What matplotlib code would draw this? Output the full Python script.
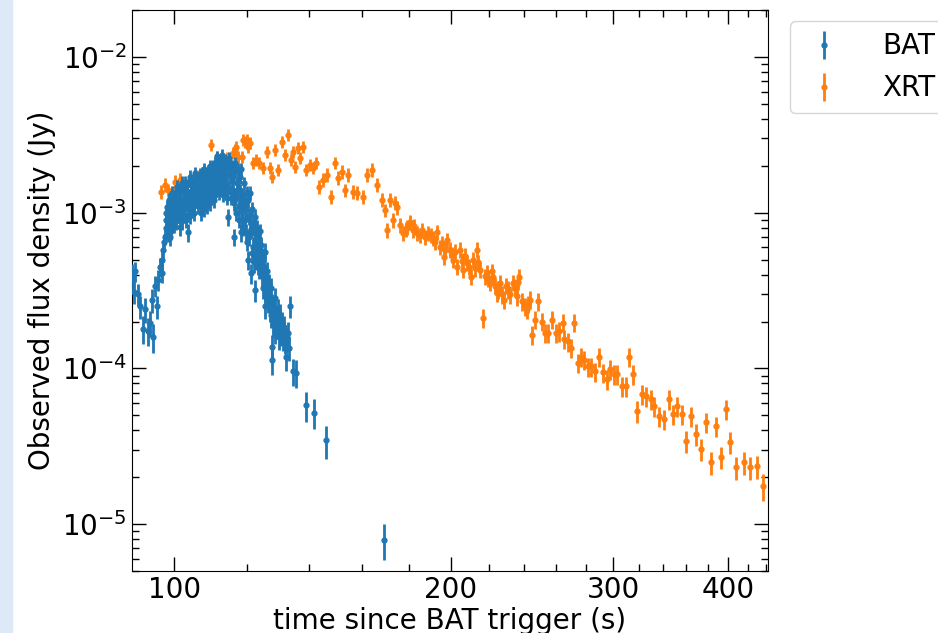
import numpy as np
import matplotlib
matplotlib.use("Agg")
import matplotlib.pyplot as plt
from matplotlib.patches import Rectangle
from matplotlib.ticker import FixedLocator, MultipleLocator, NullFormatter, FixedFormatter

# BAT light curve (time since trigger in s, flux density in Jy, error in %)
bat_time = [90.0, 90.2, 90.4, 90.7, 91.4, 91.8, 92.5, 93.0, 93.7, 94.2,
            94.6, 94.9, 95.4, 95.8, 96.1, 96.6, 97.0, 97.1, 97.3, 97.8,
            97.9, 98.0, 98.3, 98.5, 98.8, 99.0, 99.2, 99.5, 99.6, 99.8,
            100.0, 100.3, 100.6, 100.8, 101.0, 101.2, 101.5, 101.8, 102.0, 102.3,
            102.5, 102.8, 103.0, 103.3, 103.6, 103.9, 104.1, 104.3, 104.6, 104.9,
            105.2, 105.4, 105.6, 105.9, 106.2, 106.5, 106.8, 107.1, 107.4, 107.7,
            108.0, 108.3, 108.6, 108.9, 109.2, 109.5, 109.8, 110.1, 110.4, 110.7,
            111.0, 111.3, 111.6, 111.9, 112.2, 112.5, 112.8, 113.1, 113.4, 113.7,
            114.0, 114.3, 114.5, 114.6, 115.2, 115.5, 115.8, 116.1, 116.4, 116.7,
            117.0, 117.3, 117.6, 117.9, 118.2, 118.1, 118.3, 118.6, 119.0, 119.3,
            119.6, 119.9, 120.2, 120.5, 120.9, 121.1, 121.3, 121.6, 121.9, 122.2,
            122.4, 122.6, 122.9, 123.2, 123.5, 123.8, 124.0, 124.3, 124.6, 124.9,
            125.2, 125.6, 125.9, 126.2, 126.6, 126.9, 127.2, 127.5, 127.8, 127.9,
            128.1, 128.8, 128.9, 129.3, 129.4, 129.7, 130.5, 131.0, 131.3, 131.8,
            132.4, 133.0, 133.4, 133.7, 134.6, 135.8, 139.1, 142.0, 146.3, 169.1,
            97.6, 98.1, 98.4, 98.7, 98.9, 99.1, 99.3, 99.7, 99.9, 100.1,
            100.4, 100.5, 100.7, 100.9, 101.1, 101.3, 101.6, 101.7, 101.9, 102.1,
            102.4, 102.6, 102.9, 103.1, 103.4, 103.5, 103.7, 104.0, 104.2, 104.5,
            104.7, 105.0, 105.1, 105.3, 105.7, 105.8, 106.0, 106.1, 106.4, 106.6,
            106.9, 107.0, 107.2, 107.5, 107.8, 107.9, 108.1, 108.4, 108.7, 108.8,
            109.0, 109.3, 109.4, 109.6, 109.9, 110.0, 110.2, 110.5, 110.6, 110.9,
            111.1, 111.4, 111.5, 111.8, 112.0, 112.3, 112.6, 112.7, 113.0, 113.2,
            113.5, 113.6, 113.9, 114.1, 114.4, 114.8, 115.0, 115.3, 115.6, 115.9,
            116.0, 116.3, 116.6, 116.9, 117.1, 117.4, 117.7, 118.0, 118.4, 118.7,
            118.9, 119.1, 119.5, 119.8, 120.0, 120.3, 120.7, 121.0, 121.4, 121.7,
            122.0, 122.3, 122.8, 123.0, 123.3, 123.6, 124.1, 124.4, 124.8, 125.0,
            125.4, 125.7, 126.0, 126.4, 126.7, 127.0, 127.3, 127.7, 128.0, 128.4,
            128.6, 129.0, 129.9, 130.2, 130.8, 131.5, 132.1, 132.7]
bat_flux = [4.1e-4, 3.7e-4, 3.1e-4, 4.2e-4, 3.0e-4, 2.5e-4, 1.8e-4, 2.4e-4, 1.75e-4, 1.95e-4,
            2.75e-4, 1.6e-4, 3.4e-4, 2.5e-4, 3.7e-4, 4.5e-4, 4.1e-4, 5.0e-4, 5.8e-4, 7.0e-4,
            1.0e-3, 8.0e-4, 1.09e-3, 8.6e-4, 9.5e-4, 7.0e-4, 1.15e-3, 1.34e-3, 8.6e-4, 1.05e-3,
            1.25e-3, 9.4e-4, 1.1e-3, 1.47e-3, 1.09e-3, 1.3e-3, 8.1e-4, 9.5e-4, 1.56e-3, 1.03e-3,
            1.25e-3, 1.56e-3, 1.4e-3, 1.2e-3, 7.5e-4, 1.15e-3, 1.7e-3, 1.35e-3, 1.09e-3, 1.5e-3,
            1.15e-3, 1.8e-3, 1.4e-3, 1.3e-3, 1.55e-3, 1.2e-3, 1.75e-3, 1.0e-3, 1.4e-3, 1.9e-3,
            1.25e-3, 1.6e-3, 1.1e-3, 1.85e-3, 1.45e-3, 2.0e-3, 1.3e-3, 1.7e-3, 1.2e-3, 2.1e-3,
            1.55e-3, 2.3e-3, 1.8e-3, 1.35e-3, 2.0e-3, 1.6e-3, 2.35e-3, 1.3e-3, 1.9e-3, 2.2e-3,
            1.5e-3, 1.75e-3, 9.4e-4, 2.25e-3, 2.0e-3, 1.6e-3, 1.85e-3, 7.0e-4, 2.1e-3, 1.3e-3,
            1.55e-3, 1.9e-3, 1.1e-3, 1.7e-3, 7.5e-4, 1.9e-3, 1.25e-3, 9.0e-4, 1.55e-3, 1.1e-3,
            7.5e-4, 1.35e-3, 5.0e-4, 9.5e-4, 1.34e-3, 4.1e-4, 7.8e-4, 1.05e-3, 6.0e-4, 8.5e-4,
            3.2e-4, 9.4e-4, 5.0e-4, 7.0e-4, 5.8e-4, 4.4e-4, 7.6e-4, 6.2e-4, 3.9e-4, 5.2e-4,
            4.5e-4, 2.5e-4, 3.6e-4, 4.2e-4, 3.0e-4, 3.5e-4, 2.8e-4, 2.2e-4, 1.38e-4, 1.14e-4,
            2.5e-4, 2.85e-4, 2.15e-4, 1.9e-4, 1.86e-4, 2.4e-4, 2.0e-4, 1.97e-4, 1.58e-4, 1.7e-4,
            1.19e-4, 1.7e-4, 1.36e-4, 2.5e-4, 9.6e-5, 9.4e-5, 5.8e-5, 5.2e-5, 3.45e-5, 7.9e-6,
            6.5e-4, 9.0e-4, 7.4e-4, 1.2e-3, 8.0e-4, 9.8e-4, 7.6e-4, 1.15e-3, 8.4e-4, 1.05e-3,
            1.35e-3, 8.8e-4, 1.2e-3, 9.6e-4, 1.4e-3, 1.0e-3, 1.2e-3, 1.45e-3, 1.1e-3, 8.8e-4,
            1.4e-3, 1.05e-3, 1.2e-3, 9.0e-4, 1.5e-3, 1.05e-3, 1.3e-3, 9.5e-4, 1.55e-3, 1.25e-3,
            1.6e-3, 1.35e-3, 1.0e-3, 1.6e-3, 1.2e-3, 1.65e-3, 1.45e-3, 1.1e-3, 1.65e-3, 1.35e-3,
            1.15e-3, 1.6e-3, 1.8e-3, 1.2e-3, 1.55e-3, 1.05e-3, 1.75e-3, 1.35e-3, 1.7e-3, 1.25e-3,
            1.55e-3, 1.9e-3, 1.15e-3, 1.6e-3, 1.85e-3, 1.4e-3, 2.0e-3, 1.5e-3, 1.75e-3, 1.3e-3,
            1.9e-3, 1.45e-3, 2.15e-3, 1.65e-3, 1.95e-3, 1.45e-3, 2.2e-3, 1.75e-3, 1.55e-3, 2.05e-3,
            1.4e-3, 1.7e-3, 1.95e-3, 1.25e-3, 2.05e-3, 1.45e-3, 1.75e-3, 1.25e-3, 2.0e-3, 1.4e-3,
            1.7e-3, 1.15e-3, 1.85e-3, 1.0e-3, 1.35e-3, 1.6e-3, 9.0e-4, 1.4e-3, 1.05e-3, 1.3e-3,
            8.0e-4, 1.2e-3, 9.0e-4, 1.05e-3, 6.5e-4, 1.2e-3, 7.0e-4, 9.0e-4, 5.5e-4, 8.0e-4,
            4.8e-4, 6.8e-4, 6.2e-4, 8.0e-4, 4.6e-4, 6.6e-4, 4.8e-4, 5.5e-4, 3.3e-4, 4.2e-4,
            5.6e-4, 3.2e-4, 3.9e-4, 2.7e-4, 3.2e-4, 2.4e-4, 3.3e-4, 2.6e-4, 1.9e-4, 2.4e-4,
            1.75e-4, 2.1e-4, 1.6e-4, 2.2e-4, 1.7e-4, 1.85e-4, 1.5e-4, 1.55e-4]
bat_err = [14, 15, 16, 14, 16, 17, 20, 18, 20, 19,
           17, 21, 15, 17, 15, 14, 14, 13, 13, 12,
           11, 12, 11, 12, 12, 13, 11, 10, 12, 11,
           11, 12, 11, 10, 11, 11, 12, 12, 10, 11,
           11, 10, 10, 11, 13, 11, 10, 10, 11, 10,
           11, 10, 10, 10, 10, 11, 10, 11, 10, 9,
           11, 10, 11, 9, 10, 9, 10, 10, 11, 9,
           10, 9, 9, 10, 9, 10, 9, 10, 9, 9,
           10, 10, 12, 9, 9, 10, 9, 13, 9, 10,
           10, 9, 11, 10, 13, 9, 10, 12, 10, 11,
           13, 10, 14, 12, 10, 15, 12, 11, 13, 12,
           16, 12, 14, 13, 13, 15, 12, 13, 15, 14,
           15, 17, 15, 15, 16, 15, 16, 17, 19, 20,
           16, 16, 17, 17, 17, 16, 17, 17, 18, 17,
           19, 17, 18, 16, 20, 20, 22, 22, 24, 26,
           13, 12, 12, 11, 12, 11, 12, 11, 12, 11,
           10, 12, 11, 11, 10, 11, 11, 10, 11, 12,
           10, 11, 11, 12, 10, 11, 10, 11, 10, 11,
           10, 10, 11, 10, 11, 10, 10, 11, 10, 10,
           11, 10, 10, 11, 10, 11, 10, 10, 10, 11,
           10, 9, 11, 10, 9, 10, 9, 10, 10, 10,
           9, 10, 9, 10, 9, 10, 9, 10, 10, 9,
           10, 10, 9, 11, 9, 10, 10, 11, 9, 10,
           10, 11, 9, 11, 10, 10, 12, 10, 11, 10,
           12, 11, 12, 11, 13, 11, 13, 12, 14, 12,
           14, 13, 13, 12, 14, 13, 14, 14, 15, 15,
           14, 16, 15, 16, 16, 17, 16, 16, 17, 17,
           18, 17, 18, 17, 18, 17, 18, 18]

# XRT light curve
xrt_time = [96.8, 97.8, 98.5, 99.7, 100.3, 101.0, 101.5, 102.3, 103.3, 104.1,
            104.6, 105.4, 106.2, 106.7, 107.5, 108.6, 109.4, 109.7, 110.2, 111.4,
            112.2, 113.0, 114.2, 115.0, 115.9, 116.5, 116.8, 117.4, 118.5, 118.8,
            119.5, 120.0, 120.3, 120.9, 121.9, 122.7, 123.7, 124.9, 126.2, 127.1,
            127.8, 128.8, 129.7, 131.0, 132.0, 133.0, 134.0, 134.7, 135.4, 136.4,
            137.0, 138.1, 139.1, 140.5, 141.6, 142.7, 143.7, 145.2, 146.6, 148.1,
            149.6, 150.7, 152.3, 153.4, 154.6, 156.5, 158.1, 160.5, 162.1, 164.1,
            166.1, 168.2, 169.5, 170.4, 171.7, 173.0, 173.9, 174.7, 176.1, 177.4,
            179.2, 180.6, 181.9, 183.8, 186.0, 187.5, 188.9, 191.3, 193.2, 194.6,
            196.6, 198.1, 199.6, 201.0, 203.1, 204.6, 206.2, 208.2, 210.0, 211.4,
            213.5, 215.0, 216.7, 218.8, 220.5, 222.2, 224.3, 226.0, 228.3, 230.6,
            233.4, 235.8, 237.3, 240.5, 241.6, 243.5, 244.7, 246.7, 248.7, 251.2,
            253.1, 255.0, 257.7, 259.8, 261.8, 264.5, 265.1, 268.0, 270.0, 272.1,
            274.9, 277.0, 279.2, 282.0, 284.2, 286.4, 289.4, 292.3, 295.3, 297.5,
            300.4, 302.9, 306.7, 309.8, 312.2, 315.3, 318.5, 322.6, 325.8, 330.0,
            332.4, 336.7, 340.9, 345.2, 348.6, 352.1, 356.6, 360.2, 364.7, 369.3,
            373.9, 378.6, 383.4, 388.2, 393.1, 398.1, 402.1, 408.2, 416.5, 422.8,
            430.2, 436.7,
            178.5, 182.5, 185.0, 190.0, 192.2, 195.5, 197.2, 200.3, 202.0, 205.5,
            207.3, 209.0, 212.5, 214.2, 217.5, 219.6, 221.4, 223.2, 225.2, 227.1,
            229.4, 231.8, 234.5, 236.6, 239.0, 242.5]
xrt_flux = [1.36e-3, 1.51e-3, 1.40e-3, 1.34e-3, 1.58e-3, 1.47e-3, 1.63e-3, 1.45e-3, 1.27e-3, 1.63e-3,
            1.40e-3, 1.27e-3, 1.70e-3, 1.45e-3, 1.56e-3, 1.70e-3, 1.89e-3, 2.73e-3, 1.97e-3, 2.29e-3,
            1.97e-3, 2.12e-3, 2.25e-3, 1.97e-3, 2.43e-3, 2.54e-3, 2.65e-3, 2.29e-3, 2.29e-3, 2.94e-3,
            2.85e-3, 2.94e-3, 2.65e-3, 2.81e-3, 2.09e-3, 2.19e-3, 2.09e-3, 1.94e-3, 2.46e-3, 1.94e-3,
            1.70e-3, 2.54e-3, 1.89e-3, 2.85e-3, 2.36e-3, 3.16e-3, 2.19e-3, 2.46e-3, 1.97e-3, 2.61e-3,
            2.25e-3, 2.65e-3, 1.89e-3, 2.03e-3, 1.94e-3, 2.09e-3, 1.47e-3, 1.63e-3, 1.75e-3, 1.27e-3,
            2.09e-3, 1.68e-3, 1.83e-3, 1.40e-3, 1.75e-3, 1.36e-3, 1.34e-3, 1.27e-3, 1.75e-3, 1.89e-3,
            1.51e-3, 1.21e-3, 1.04e-3, 7.78e-4, 1.21e-3, 9.0e-4, 1.16e-3, 1.08e-3, 8.37e-4, 7.44e-4,
            8.13e-4, 8.75e-4, 7.78e-4, 7.44e-4, 7.78e-4, 7.02e-4, 7.44e-4, 6.91e-4, 7.55e-4, 6.05e-4,
            5.22e-4, 6.71e-4, 5.79e-4, 5.00e-4, 4.51e-4, 5.79e-4, 4.31e-4, 4.78e-4, 3.89e-4, 5.00e-4,
            5.79e-4, 4.31e-4, 2.12e-4, 4.12e-4, 3.56e-4, 3.89e-4, 3.07e-4, 3.56e-4, 2.77e-4, 3.21e-4,
            3.56e-4, 2.90e-4, 3.89e-4, 2.50e-4, 2.39e-4, 2.77e-4, 1.65e-4, 2.06e-4, 2.69e-4, 2.00e-4,
            1.70e-4, 1.70e-4, 2.06e-4, 1.70e-4, 1.73e-4, 1.97e-4, 1.54e-4, 1.49e-4, 1.36e-4, 1.97e-4,
            1.09e-4, 1.18e-4, 1.14e-4, 1.03e-4, 1.03e-4, 9.57e-5, 1.19e-4, 9.43e-5, 8.50e-5, 9.86e-5,
            9.16e-5, 9.16e-5, 7.67e-5, 7.67e-5, 1.19e-4, 9.16e-5, 5.30e-5, 6.81e-5, 6.62e-5, 6.33e-5,
            5.70e-5, 4.92e-5, 4.71e-5, 6.33e-5, 5.07e-5, 5.70e-5, 5.07e-5, 3.40e-5, 4.92e-5, 3.77e-5,
            3.03e-5, 4.51e-5, 2.49e-5, 4.25e-5, 2.69e-5, 5.46e-5, 3.36e-5, 2.32e-5, 2.49e-5, 2.32e-5,
            2.35e-5, 1.75e-5,
            7.9e-4, 8.2e-4, 7.2e-4, 7.2e-4, 6.5e-4, 6.4e-4, 5.8e-4, 5.4e-4, 5.6e-4, 4.9e-4,
            5.3e-4, 4.5e-4, 4.4e-4, 4.8e-4, 3.9e-4, 3.8e-4, 4.2e-4, 3.4e-4, 3.2e-4, 3.0e-4,
            3.4e-4, 3.0e-4, 3.3e-4, 3.6e-4, 2.7e-4, 2.6e-4]
xrt_err = [10, 10, 10, 10, 10, 10, 10, 10, 10, 10,
           10, 10, 10, 10, 10, 10, 9, 9, 9, 9,
           9, 9, 9, 9, 9, 9, 9, 9, 9, 9,
           9, 9, 9, 9, 9, 9, 9, 9, 9, 9,
           9, 9, 9, 9, 9, 9, 9, 9, 9, 9,
           9, 9, 9, 9, 9, 9, 10, 10, 10, 10,
           9, 10, 10, 10, 10, 10, 10, 10, 10, 10,
           10, 10, 10, 11, 10, 11, 10, 10, 11, 11,
           11, 11, 11, 11, 11, 11, 11, 11, 11, 11,
           12, 11, 12, 12, 12, 12, 12, 12, 12, 12,
           12, 12, 14, 12, 12, 12, 13, 12, 13, 13,
           12, 13, 12, 13, 13, 13, 14, 13, 13, 13,
           14, 14, 13, 14, 14, 13, 14, 14, 14, 13,
           14, 14, 14, 14, 14, 14, 14, 14, 15, 14,
           14, 14, 15, 15, 14, 14, 16, 15, 15, 15,
           15, 15, 15, 15, 15, 15, 15, 16, 15, 16,
           16, 15, 17, 15, 16, 15, 16, 17, 17, 17,
           17, 20,
           11, 11, 11, 11, 11, 11, 12, 12, 12, 12,
           12, 12, 12, 12, 12, 12, 12, 12, 13, 13,
           12, 13, 13, 12, 13, 13]

x_major = [100, 200, 300, 400]
x_major_labels = ["100", "200", "300", "400"]

bat_time = np.array(bat_time)
bat_flux = np.array(bat_flux)
xrt_time = np.array(xrt_time)
xrt_flux = np.array(xrt_flux)
bat_yerr = bat_flux * np.array(bat_err) / 100.0
xrt_yerr = xrt_flux * np.array(xrt_err) / 100.0

fig = plt.figure(figsize=(9.38, 6.33), dpi=100)
ax = fig.add_axes([0.1407, 0.098, 0.678, 0.886])

# light blue strip at the left edge of the screenshot
fig.patches.append(Rectangle((0, 0), 12 / 938, 1, transform=fig.transFigure,
                             color="#dde9f6", zorder=0))

ax.errorbar(xrt_time, xrt_flux, yerr=xrt_yerr, fmt="o", ms=3.5, elinewidth=2,
            capsize=0, color="#ff7f0e", label="XRT", zorder=2)
ax.errorbar(bat_time, bat_flux, yerr=bat_yerr, fmt="o", ms=3.5, elinewidth=2,
            capsize=0, color="#1f77b4", label="BAT", zorder=3)

ax.set_xscale("log")
ax.set_yscale("log")
ax.set_xlim(90, 442)
ax.set_ylim(5e-6, 2e-2)

ax.xaxis.set_major_locator(FixedLocator(x_major))
ax.xaxis.set_major_formatter(FixedFormatter(x_major_labels))
ax.xaxis.set_minor_locator(MultipleLocator(20))
ax.xaxis.set_minor_formatter(NullFormatter())
ax.yaxis.set_minor_formatter(NullFormatter())

ax.tick_params(which="both", direction="in", top=True, right=True, labelsize=20)
ax.tick_params(which="major", length=10, width=1)
ax.tick_params(which="minor", length=5, width=1)

ax.set_xlabel("time since BAT trigger (s)", fontsize=20, labelpad=2)
ax.set_ylabel("Observed flux density (Jy)", fontsize=20)

handles, labels = ax.get_legend_handles_labels()
ax.legend(handles[::-1], labels[::-1], loc="upper left", bbox_to_anchor=(1.035, 0.98),
          borderaxespad=0, fontsize=20, handlelength=1.6, handletextpad=1.3)

fig.savefig("out.png", dpi=100)
